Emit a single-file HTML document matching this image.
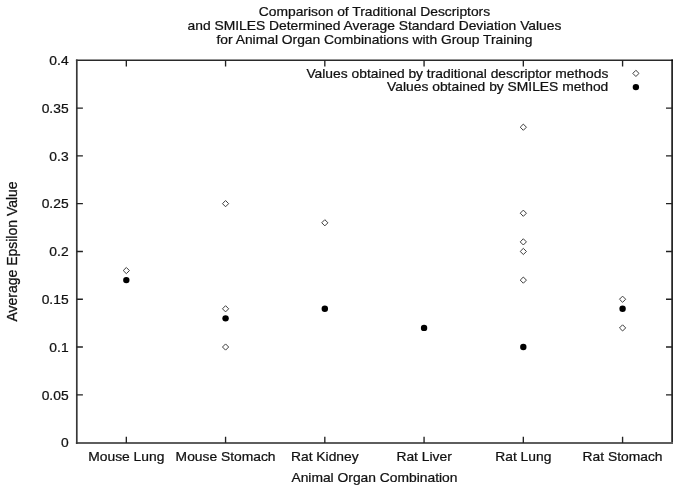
<!DOCTYPE html>
<html><head><meta charset="utf-8"><style>
html,body{margin:0;padding:0;background:#fff;overflow:hidden;}
svg{display:block;}
text{font-family:"Liberation Sans",Arial,sans-serif;font-size:13.85px;fill:#111;stroke:#111;stroke-width:0.25px;}
</style></head><body>
<svg width="685" height="489" viewBox="0 0 685 489">
<rect width="685" height="489" fill="#fff"/>
<path d="M75.90 60.2H673.00" stroke="#2a2a2a" stroke-width="1.6"/>
<path d="M672.1 59.50V443.80" stroke="#000" stroke-width="1.5"/>
<path d="M75.90 442.95H673.00" stroke="#5e5e5e" stroke-width="1.9"/>
<path d="M76.8 59.50V443.90" stroke="#383838" stroke-width="1.7"/>
<path d="M76.70 394.81h6.2M672.20 394.81h-6.2M76.70 347.03h6.2M672.20 347.03h-6.2M76.70 299.24h6.2M672.20 299.24h-6.2M76.70 251.45h6.2M672.20 251.45h-6.2M76.70 203.66h6.2M672.20 203.66h-6.2M76.70 155.88h6.2M672.20 155.88h-6.2M76.70 108.09h6.2M672.20 108.09h-6.2M126.33 442.9v-6.1M126.33 60.30v6.2M225.57 442.9v-6.1M225.57 60.30v6.2M324.82 442.9v-6.1M324.82 60.30v6.2M424.07 442.9v-6.1M424.07 60.30v6.2M523.33 442.9v-6.1M523.33 60.30v6.2M622.58 442.9v-6.1M622.58 60.30v6.2" stroke="#222" stroke-width="1.35" fill="none"/>
<text transform="translate(68.60 447.30) scale(1.0 0.97)" text-anchor="end">0</text>
<text transform="translate(68.60 399.51) scale(1.0 0.97)" text-anchor="end">0.05</text>
<text transform="translate(68.60 351.73) scale(1.0 0.97)" text-anchor="end">0.1</text>
<text transform="translate(68.60 303.94) scale(1.0 0.97)" text-anchor="end">0.15</text>
<text transform="translate(68.60 256.15) scale(1.0 0.97)" text-anchor="end">0.2</text>
<text transform="translate(68.60 208.36) scale(1.0 0.97)" text-anchor="end">0.25</text>
<text transform="translate(68.60 160.57) scale(1.0 0.97)" text-anchor="end">0.3</text>
<text transform="translate(68.60 112.79) scale(1.0 0.97)" text-anchor="end">0.35</text>
<text transform="translate(68.60 65.00) scale(1.0 0.97)" text-anchor="end">0.4</text>
<text transform="translate(126.33 461.20) scale(1.0 0.97)" text-anchor="middle">Mouse Lung</text>
<text transform="translate(225.57 461.20) scale(1.0 0.97)" text-anchor="middle">Mouse Stomach</text>
<text transform="translate(324.82 461.20) scale(1.0 0.97)" text-anchor="middle">Rat Kidney</text>
<text transform="translate(424.07 461.20) scale(1.0 0.97)" text-anchor="middle">Rat Liver</text>
<text transform="translate(523.33 461.20) scale(1.0 0.97)" text-anchor="middle">Rat Lung</text>
<text transform="translate(622.58 461.20) scale(1.0 0.97)" text-anchor="middle">Rat Stomach</text>
<text transform="translate(374.45 16.40) scale(1.0 0.97)" text-anchor="middle">Comparison of Traditional Descriptors</text>
<text transform="translate(374.45 30.10) scale(1.0 0.97)" text-anchor="middle">and SMILES Determined Average Standard Deviation Values</text>
<text transform="translate(374.45 43.80) scale(1.0 0.97)" text-anchor="middle">for Animal Organ Combinations with Group Training</text>
<text transform="translate(374.45 482.20) scale(1.0 0.97)" text-anchor="middle">Animal Organ Combination</text>
<text transform="translate(17.20 251.45) rotate(-90) scale(1.011 1.08)" text-anchor="middle">Average Epsilon Value</text>
<text transform="translate(608.30 77.60) scale(1.0 0.97)" text-anchor="end">Values obtained by traditional descriptor methods</text>
<text transform="translate(608.30 91.00) scale(1.0 0.97)" text-anchor="end">Values obtained by SMILES method</text>
<path d="M126.33 267.47L129.43 270.57L126.33 273.67L123.23 270.57ZM225.57 200.56L228.67 203.66L225.57 206.76L222.47 203.66ZM225.57 305.69L228.67 308.80L225.57 311.90L222.47 308.80ZM225.57 343.93L228.67 347.03L225.57 350.13L222.47 347.03ZM324.82 219.68L327.93 222.78L324.82 225.88L321.72 222.78ZM523.33 124.10L526.43 127.20L523.33 130.30L520.23 127.20ZM523.33 210.12L526.43 213.22L523.33 216.32L520.23 213.22ZM523.33 238.79L526.43 241.89L523.33 244.99L520.23 241.89ZM523.33 248.35L526.43 251.45L523.33 254.55L520.23 251.45ZM523.33 277.02L526.43 280.12L523.33 283.22L520.23 280.12ZM622.58 296.14L625.68 299.24L622.58 302.34L619.48 299.24ZM622.58 324.81L625.68 327.91L622.58 331.01L619.48 327.91ZM635.90 70.30L639.00 73.40L635.90 76.50L632.80 73.40Z" fill="none" stroke="#3c3c3c" stroke-width="1"/>
<circle cx="126.33" cy="280.12" r="3.2" fill="#000"/>
<circle cx="225.57" cy="318.35" r="3.2" fill="#000"/>
<circle cx="324.82" cy="308.80" r="3.2" fill="#000"/>
<circle cx="424.07" cy="327.91" r="3.2" fill="#000"/>
<circle cx="523.33" cy="347.03" r="3.2" fill="#000"/>
<circle cx="622.58" cy="308.80" r="3.2" fill="#000"/>
<circle cx="635.9" cy="87.1" r="3.2" fill="#000"/>
</svg>
</body></html>
